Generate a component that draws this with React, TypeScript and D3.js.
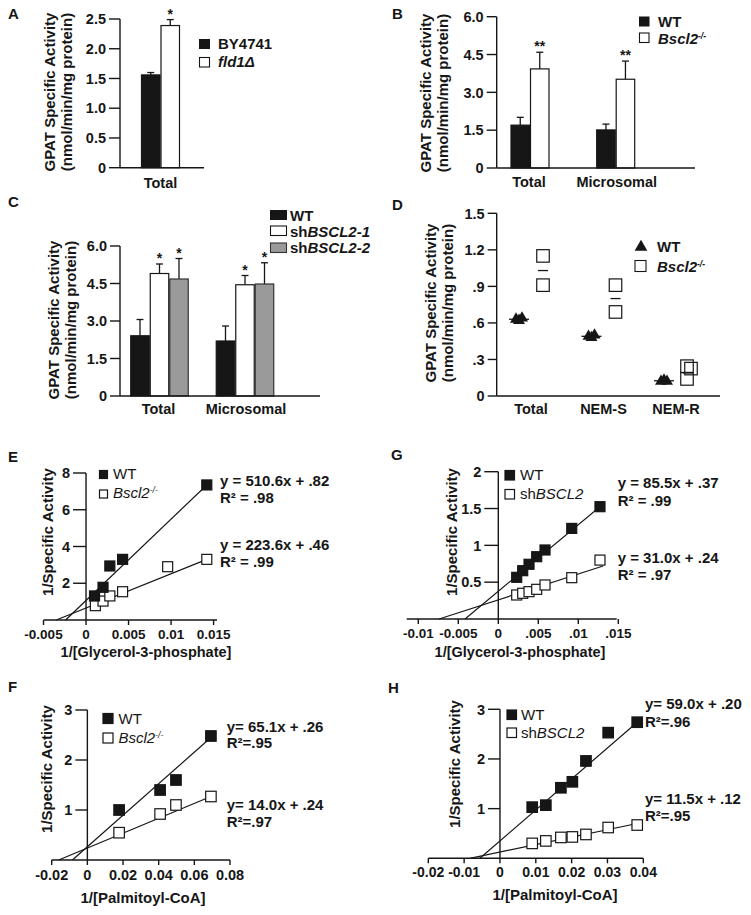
import React from "react";
import * as d3 from "d3";

const FONT = "'Liberation Sans', Arial, Helvetica, sans-serif";
const INK = "#161616";
const GRAY = "#9a9a9a";

// ---------- Panel A ----------
const aCategories = ["Total"];
const aBY4741 = [1.56];
const aBY4741Err = [0.04];
const aFld1 = [2.39];
const aFld1Err = [0.1];
const aFld1Sig = ["*"];
const aYTicks = [0, 0.5, 1.0, 1.5, 2.0, 2.5];
const aYTickLabels = ["0", "0.5", "1.0", "1.5", "2.0", "2.5"];

// ---------- Panel B ----------
const bCategories = ["Total", "Microsomal"];
const bWT = [1.7, 1.51];
const bWTErr = [0.31, 0.23];
const bKO = [3.93, 3.52];
const bKOErr = [0.66, 0.72];
const bKOSig = ["**", "**"];
const bYTicks = [0, 1.5, 3, 4.5, 6];
const bYTickLabels = ["0", "1.5", "3.0", "4.5", "6.0"];

// ---------- Panel C ----------
const cCategories = ["Total", "Microsomal"];
const cWT = [2.41, 2.2];
const cWTErr = [0.65, 0.6];
const cSh1 = [4.9, 4.45];
const cSh1Err = [0.38, 0.37];
const cSh1Sig = ["*", "*"];
const cSh2 = [4.68, 4.48];
const cSh2Err = [0.82, 0.85];
const cSh2Sig = ["*", "*"];
const cYTicks = [0, 1.5, 3, 4.5, 6];
const cYTickLabels = ["0", "1.5", "3.0", "4.5", "6.0"];

// ---------- Panel D ----------
const dCategories = ["Total", "NEM-S", "NEM-R"];
const dWT = [
  [0.63, 0.62, 0.64],
  [0.49, 0.48, 0.5],
  [0.12, 0.13, 0.12],
];
const dWTMean = [0.63, 0.49, 0.125];
const dKO = [
  [1.15, 0.91],
  [0.91, 0.69],
  [0.245, 0.225, 0.14],
];
const dKOMean = [1.03, 0.8, 0.19];
const dYTicks = [0, 0.3, 0.6, 0.9, 1.2, 1.5];
const dYTickLabels = ["0", ".3", ".6", ".9", "1.2", "1.5"];

// ---------- Panel E ----------
const eWTx = [0.001, 0.002, 0.0028, 0.0043, 0.0142];
const eWTy = [1.31, 1.78, 2.94, 3.3, 7.35];
const eKOx = [0.0011, 0.002, 0.0028, 0.0043, 0.0096, 0.0142];
const eKOy = [0.78, 1.03, 1.31, 1.54, 2.9, 3.3];
const eFitWTx = [-0.0024, 0.0142];
const eFitWTy = [0, 7.35];
const eFitKOx = [-0.0035, 0.0142];
const eFitKOy = [0, 3.3];
const eXTicks = [-0.005, 0, 0.005, 0.01, 0.015];
const eXTickLabels = ["-0.005", "0", "0.005", "0.01", "0.015"];
const eYTicks = [2, 4, 6, 8];
const eYTickLabels = ["2", "4", "6", "8"];
const eEquations = ["y = 510.6x + .82", "R² = .98", "y = 223.6x + .46", "R² = .99"];

// ---------- Panel G ----------
const gX = [0.0023, 0.00305, 0.00384, 0.0048, 0.00584, 0.00918, 0.01271];
const gWTy = [0.566, 0.656, 0.743, 0.846, 0.937, 1.23, 1.525];
const gKOy = [0.326, 0.349, 0.371, 0.403, 0.462, 0.561, 0.8];
const gFitWTx = [-0.00416, 0.01271];
const gFitWTy = [0, 1.525];
const gFitKOx = [-0.00741, 0.0131];
const gFitKOy = [0, 0.72];
const gXTicks = [-0.01, -0.005, 0, 0.005, 0.01, 0.015];
const gXTickLabels = ["-0.01", "-0.005", "0", ".005", ".01", ".015"];
const gYTicks = [0.5, 1, 1.5, 2];
const gYTickLabels = ["0.5", "1", "1.5", "2"];
const gEquations = ["y = 85.5x + .37", "R² = .99", "y = 31.0x + .24", "R² = .97"];

// ---------- Panel F ----------
const fX = [0.0178, 0.0408, 0.0497, 0.0693];
const fWTy = [1.0, 1.4, 1.6, 2.48];
const fKOy = [0.546, 0.92, 1.1, 1.27];
const fFitWTx = [-0.0084, 0.0693];
const fFitWTy = [0, 2.45];
const fFitKOx = [-0.0161, 0.0693];
const fFitKOy = [0, 1.27];
const fXTicks = [-0.02, 0, 0.02, 0.04, 0.06, 0.08];
const fXTickLabels = ["-0.02", "0", "0.02", "0.04", "0.06", "0.08"];
const fYTicks = [1, 2, 3];
const fYTickLabels = ["1", "2", "3"];
const fEquations = ["y= 65.1x + .26", "R²=.95", "y= 14.0x + .24", "R²=.97"];

// ---------- Panel H ----------
const hX = [0.009, 0.0128, 0.017, 0.0202, 0.024, 0.0302, 0.0383];
const hWTy = [1.03, 1.07, 1.42, 1.54, 1.96, 2.53, 2.74];
const hKOy = [0.3, 0.35, 0.42, 0.43, 0.48, 0.62, 0.67];
const hFitWTx = [-0.0056, 0.0383];
const hFitWTy = [0, 2.74];
const hFitKOx = [-0.0084, 0.0383];
const hFitKOy = [0, 0.7];
const hXTicks = [-0.02, -0.01, 0, 0.01, 0.02, 0.03, 0.04];
const hXTickLabels = ["-0.02", "-0.01", "0", "0.01", "0.02", "0.03", "0.04"];
const hYTicks = [1, 2, 3];
const hYTickLabels = ["1", "2", "3"];
const hEquations = ["y= 59.0x + .20", "R²=.96", "y= 11.5x + .12", "R²=.95"];

type Lin = d3.ScaleLinear<number, number>;

function YAxis({ scale, x, ticks, labels, tickLen, fontSize = 14.5 }: any) {
  const [d0, d1] = scale.domain();
  return (
    <g>
      <line x1={x} x2={x} y1={scale(d0)} y2={scale(d1)} stroke={INK} strokeWidth={1.4} />
      {ticks.map((t: number, i: number) => (
        <g key={i}>
          <line x1={x - tickLen} x2={x} y1={scale(t)} y2={scale(t)} stroke={INK} strokeWidth={1.4} />
          <text x={x - tickLen - 3} y={scale(t)} dy="0.36em" textAnchor="end" fontWeight="bold" fontSize={fontSize} fill={INK}>
            {labels[i]}
          </text>
        </g>
      ))}
    </g>
  );
}

function YTitle({ x, y, lines }: { x: number; y: number; lines: string[] }) {
  return (
    <g>
      {lines.map((l, i) => (
        <text key={i} transform={`translate(${x + i * 17},${y}) rotate(-90)`} dy="0.36em" textAnchor="middle" fontWeight="bold" fontSize={15} fill={INK}>
          {l}
        </text>
      ))}
    </g>
  );
}

function PanelLetter({ x, y, t }: { x: number; y: number; t: string }) {
  return (
    <text x={x} y={y} fontWeight="bold" fontSize={15} fill={INK}>
      {t}
    </text>
  );
}

type BarSeries = { values: number[]; errs: number[]; sig?: string[]; fill: string; stroke: string };

function Bars({ cats, series, y, centerRange, barW }: { cats: string[]; series: BarSeries[]; y: Lin; centerRange: [number, number]; barW: number }) {
  const xc = d3.scalePoint<string>().domain(cats).range(centerRange);
  const n = series.length;
  const inner = d3.scaleBand<number>().domain(d3.range(n)).range([(-barW * n) / 2, (barW * n) / 2]);
  return (
    <g>
      {series.map((s, si) =>
        cats.map((c, ci) => {
          const x0 = (xc(c) as number) + (inner(si) as number);
          const w = inner.bandwidth();
          const v = s.values[ci];
          const top = y(v);
          const et = y(v + s.errs[ci]);
          const cx = x0 + w / 2;
          return (
            <g key={`${si}-${ci}`}>
              <line x1={cx} x2={cx} y1={top} y2={et} stroke={INK} strokeWidth={1.3} />
              <line x1={cx - 3.5} x2={cx + 3.5} y1={et} y2={et} stroke={INK} strokeWidth={1.3} />
              <rect x={x0 + 0.5} y={top} width={w - 1} height={y(0) - top} fill={s.fill} stroke={s.stroke} strokeWidth={1.2} />
              {s.sig && s.sig[ci] ? (
                <text x={cx} y={et - 1} textAnchor="middle" fontWeight="bold" fontSize={14} fill={INK}>
                  {s.sig[ci]}
                </text>
              ) : null}
            </g>
          );
        })
      )}
    </g>
  );
}

function CatLabels({ cats, centers, y }: { cats: string[]; centers: [number, number]; y: number }) {
  const xc = d3.scalePoint<string>().domain(cats).range(centers);
  return (
    <g>
      {cats.map((c) => (
        <text key={c} x={xc(c)} y={y} textAnchor="middle" fontWeight="bold" fontSize={14.5} fill={INK}>
          {c}
        </text>
      ))}
    </g>
  );
}

function KO() {
  return (
    <>
      <tspan fontStyle="italic">Bscl2</tspan>
      <tspan fontStyle="italic" fontSize={8.5} dy={-5}>
        -/-
      </tspan>
    </>
  );
}

function XAxisScatter({ scale, y, ticks, labels, labelY, fontSize = 14.5 }: any) {
  const [d0, d1] = scale.domain();
  return (
    <g>
      <line x1={scale(d0)} x2={scale(d1)} y1={y} y2={y} stroke={INK} strokeWidth={1.4} />
      {ticks.map((t: number, i: number) => (
        <g key={i}>
          <line x1={scale(t)} x2={scale(t)} y1={y} y2={y + 5} stroke={INK} strokeWidth={1.4} />
          <text x={scale(t)} y={labelY} textAnchor="middle" fontWeight="bold" fontSize={fontSize} fill={INK}>
            {labels[i]}
          </text>
        </g>
      ))}
    </g>
  );
}

function Scatter({ x, y, xs, ys, filled, size = 10.5 }: { x: Lin; y: Lin; xs: number[]; ys: number[]; filled: boolean; size?: number }) {
  return (
    <g>
      {xs.map((v, i) => (
        <rect
          key={i}
          x={x(v) - size / 2}
          y={y(ys[i]) - size / 2}
          width={size}
          height={size}
          fill={filled ? INK : "#fff"}
          stroke={INK}
          strokeWidth={1.2}
        />
      ))}
    </g>
  );
}

function Fit({ x, y, xs, ys }: { x: Lin; y: Lin; xs: number[]; ys: number[] }) {
  const line = d3
    .line<number>()
    .x((d) => x(d))
    .y((_, i) => y(ys[i]));
  return <path d={line(xs) || ""} fill="none" stroke={INK} strokeWidth={1.2} />;
}

function Equations({ x, ys, texts }: { x: number; ys: number[]; texts: string[] }) {
  return (
    <g>
      {texts.map((t, i) => (
        <text key={i} x={x} y={ys[i]} fontWeight="bold" fontSize={15} fill={INK}>
          {t}
        </text>
      ))}
    </g>
  );
}

function LegendSquares({ x, ys, size, textX, labels }: { x: number; ys: number[]; size: number; textX: number; labels: React.ReactNode[] }) {
  return (
    <g>
      {ys.map((yy, i) => (
        <g key={i}>
          <rect x={x} y={yy} width={size} height={size} fill={i === 0 ? INK : "#fff"} stroke={INK} strokeWidth={1.2} />
          <text x={textX} y={yy + size} fontSize={15} fill={INK}>
            {labels[i]}
          </text>
        </g>
      ))}
    </g>
  );
}

function PanelA() {
  const y = d3.scaleLinear().domain([0, 2.5]).range([167.7, 19]);
  const series: BarSeries[] = [
    { values: aBY4741, errs: aBY4741Err, fill: INK, stroke: INK },
    { values: aFld1, errs: aFld1Err, sig: aFld1Sig, fill: "#fff", stroke: INK },
  ];
  return (
    <g>
      <PanelLetter x={8} y={18.5} t="A" />
      <YTitle x={50} y={92} lines={["GPAT Specific Activity", "(nmol/min/mg protein)"]} />
      <Bars cats={aCategories} series={series} y={y} centerRange={[160.5, 160.5]} barW={19.5} />
      <line x1={120} x2={204} y1={y(0)} y2={y(0)} stroke={INK} strokeWidth={1.4} />
      <YAxis scale={y} x={120} ticks={aYTicks} labels={aYTickLabels} tickLen={11} />
      <CatLabels cats={aCategories} centers={[160.5, 160.5]} y={188.3} />
      <rect x={199} y={39} width={11} height={10} fill={INK} />
      <rect x={199.5} y={57.5} width={10} height={9.5} fill="#fff" stroke={INK} strokeWidth={1.1} />
      <text x={218} y={49} fontWeight="bold" fontSize={15} fill={INK}>BY4741</text>
      <text x={218} y={67} fontWeight="bold" fontSize={15} fill={INK} fontStyle="italic">fld1Δ</text>
    </g>
  );
}

function PanelB() {
  const y = d3.scaleLinear().domain([0, 6]).range([168, 16.7]);
  const series: BarSeries[] = [
    { values: bWT, errs: bWTErr, fill: INK, stroke: INK },
    { values: bKO, errs: bKOErr, sig: bKOSig, fill: "#fff", stroke: INK },
  ];
  return (
    <g>
      <PanelLetter x={392} y={18.5} t="B" />
      <YTitle x={426} y={93} lines={["GPAT Specific Activity", "(nmol/min/mg protein)"]} />
      <Bars cats={bCategories} series={series} y={y} centerRange={[530, 615.7]} barW={19.5} />
      <line x1={496.7} x2={695} y1={y(0)} y2={y(0)} stroke={INK} strokeWidth={1.4} />
      <YAxis scale={y} x={496.7} ticks={bYTicks} labels={bYTickLabels} tickLen={10} />
      <CatLabels cats={bCategories} centers={[529, 616.7]} y={186.7} />
      <rect x={639} y={16.5} width={10.5} height={10} fill={INK} />
      <rect x={639.5} y={33} width={9.5} height={9.5} fill="#fff" stroke={INK} strokeWidth={1.1} />
      <text x={658} y={27} fontWeight="bold" fontSize={15} fill={INK}>WT</text>
      <text x={658} y={43.5} fontWeight="bold" fontSize={15} fill={INK}><KO /></text>
    </g>
  );
}

function PanelC() {
  const y = d3.scaleLinear().domain([0, 6]).range([396, 246]);
  const series: BarSeries[] = [
    { values: cWT, errs: cWTErr, fill: INK, stroke: INK },
    { values: cSh1, errs: cSh1Err, sig: cSh1Sig, fill: "#fff", stroke: INK },
    { values: cSh2, errs: cSh2Err, sig: cSh2Sig, fill: GRAY, stroke: "#333" },
  ];
  return (
    <g>
      <PanelLetter x={8} y={206.5} t="C" />
      <YTitle x={54} y={320} lines={["GPAT Specific Activity", "(nmol/min/mg protein)"]} />
      <Bars cats={cCategories} series={series} y={y} centerRange={[159.5, 245]} barW={19.5} />
      <line x1={120} x2={320} y1={y(0)} y2={y(0)} stroke={INK} strokeWidth={1.4} />
      <YAxis scale={y} x={120} ticks={cYTicks} labels={cYTickLabels} tickLen={10} />
      <CatLabels cats={cCategories} centers={[158.5, 246]} y={414} />
      <rect x={270} y={210} width={17} height={10} fill={INK} />
      <rect x={270.5} y={226} width={16} height={9.5} fill="#fff" stroke={INK} strokeWidth={1.1} />
      <rect x={270.5} y={243} width={16} height={9.5} fill={GRAY} stroke="#333" strokeWidth={1.1} />
      <text x={290} y={220.5} fontWeight="bold" fontSize={15} fill={INK}>WT</text>
      <text x={290} y={236.5} fontWeight="bold" fontSize={15} fill={INK}>
        sh<tspan fontStyle="italic">BSCL2-1</tspan>
      </text>
      <text x={290} y={253} fontWeight="bold" fontSize={15} fill={INK}>
        sh<tspan fontStyle="italic">BSCL2-2</tspan>
      </text>
    </g>
  );
}

function PanelD() {
  const y = d3.scaleLinear().domain([0, 1.5]).range([396, 213.3]);
  const xc = d3.scalePoint<string>().domain(dCategories).range([531, 676]);
  const tri = d3.symbol().type(d3.symbolTriangle).size(62)() || "";
  const sqSize = 12.5;
  const wtJitter = [-3, 0, 3];
  const koJitter = [[0, 0], [0, 0], [-1, 3, -1]];
  return (
    <g>
      <PanelLetter x={392} y={210} t="D" />
      <YTitle x={431} y={303} lines={["GPAT Specific Activity", "(nmol/min/mg protein)"]} />
      {dCategories.map((c, ci) => {
        const cx = xc(c) as number;
        const wx = cx - 12;
        const kx = cx + 12;
        return (
          <g key={c}>
            {dWT[ci].map((v, i) => (
              <path key={i} d={tri} transform={`translate(${wx + wtJitter[i]},${y(v)})`} fill={INK} />
            ))}
            <line x1={wx - 10} x2={wx + 10} y1={y(dWTMean[ci])} y2={y(dWTMean[ci])} stroke={INK} strokeWidth={1.3} />
            {dKO[ci].map((v, i) => (
              <rect key={i} x={kx + koJitter[ci][i] - sqSize / 2} y={y(v) - sqSize / 2} width={sqSize} height={sqSize} fill="none" stroke={INK} strokeWidth={1.2} />
            ))}
            <line x1={kx - 5} x2={kx + 5} y1={y(dKOMean[ci])} y2={y(dKOMean[ci])} stroke={INK} strokeWidth={1.3} />
          </g>
        );
      })}
      <line x1={496.7} x2={720} y1={y(0)} y2={y(0)} stroke={INK} strokeWidth={1.4} />
      <YAxis scale={y} x={496.7} ticks={dYTicks} labels={dYTickLabels} tickLen={9} />
      {dCategories.map((c) => (
        <text key={c} x={xc(c)} y={414} textAnchor="middle" fontWeight="bold" fontSize={14.5} fill={INK}>
          {c}
        </text>
      ))}
      <path d={d3.symbol().type(d3.symbolTriangle).size(70)() || ""} transform="translate(641,247)" fill={INK} />
      <rect x={635} y={260.5} width={11} height={11} fill="#fff" stroke={INK} strokeWidth={1.1} />
      <text x={657} y={252} fontWeight="bold" fontSize={15} fill={INK}>WT</text>
      <text x={657} y={271.5} fontWeight="bold" fontSize={15} fill={INK}><KO /></text>
    </g>
  );
}

function PanelE() {
  const x = d3.scaleLinear().domain([-0.005, 0.0154]).range([43.5, 217]);
  const y = d3.scaleLinear().domain([0, 8]).range([620, 473]);
  return (
    <g>
      <PanelLetter x={8} y={461.5} t="E" />
      <YTitle x={48} y={532} lines={["1/Specific Activity"]} />
      <Fit x={x} y={y} xs={eFitWTx} ys={eFitWTy} />
      <Fit x={x} y={y} xs={eFitKOx} ys={eFitKOy} />
      <Scatter x={x} y={y} xs={eKOx} ys={eKOy} filled={false} size={10} />
      <Scatter x={x} y={y} xs={eWTx} ys={eWTy} filled={true} size={10} />
      <YAxis scale={y} x={x(0)} ticks={eYTicks} labels={eYTickLabels} tickLen={13} />
      <XAxisScatter scale={x} y={y(0)} ticks={eXTicks} labels={eXTickLabels} labelY={638.5} fontSize={13.5} />
      <text x={146} y={657} textAnchor="middle" fontWeight="bold" fontSize={14.5} fill={INK}>1/[Glycerol-3-phosphate]</text>
      <LegendSquares x={99.5} ys={[470.5, 490]} size={8} textX={113} labels={["WT", <KO key="k" />]} />
      <Equations x={220} ys={[486, 503, 550, 567]} texts={eEquations} />
    </g>
  );
}

function PanelG() {
  const x = d3.scaleLinear().domain([-0.01145, 0.0148]).range([406.7, 616.7]);
  const y = d3.scaleLinear().domain([0, 2]).range([619, 471.7]);
  return (
    <g>
      <PanelLetter x={391} y={460} t="G" />
      <YTitle x={452} y={532} lines={["1/Specific Activity"]} />
      <Fit x={x} y={y} xs={gFitWTx} ys={gFitWTy} />
      <Fit x={x} y={y} xs={gFitKOx} ys={gFitKOy} />
      <Scatter x={x} y={y} xs={gX} ys={gKOy} filled={false} size={10} />
      <Scatter x={x} y={y} xs={gX} ys={gWTy} filled={true} size={10} />
      <YAxis scale={y} x={x(0)} ticks={gYTicks} labels={gYTickLabels} tickLen={14} />
      <XAxisScatter scale={x} y={y(0)} ticks={gXTicks} labels={gXTickLabels} labelY={638} fontSize={13.5} />
      <text x={520} y={657} textAnchor="middle" fontWeight="bold" fontSize={14.5} fill={INK}>1/[Glycerol-3-phosphate]</text>
      <LegendSquares
        x={505}
        ys={[470.5, 489.5]}
        size={9.5}
        textX={520}
        labels={["WT", <React.Fragment key="s">sh<tspan fontStyle="italic">BSCL2</tspan></React.Fragment>]}
      />
      <Equations x={617.7} ys={[488.3, 505.7, 563.3, 580]} texts={gEquations} />
    </g>
  );
}

function PanelF() {
  const x = d3.scaleLinear().domain([-0.02, 0.08]).range([51.7, 230]);
  const y = d3.scaleLinear().domain([0, 3]).range([860, 710]);
  return (
    <g>
      <PanelLetter x={8} y={691.5} t="F" />
      <YTitle x={47} y={769} lines={["1/Specific Activity"]} />
      <Fit x={x} y={y} xs={fFitWTx} ys={fFitWTy} />
      <Fit x={x} y={y} xs={fFitKOx} ys={fFitKOy} />
      <Scatter x={x} y={y} xs={fX} ys={fKOy} filled={false} />
      <Scatter x={x} y={y} xs={fX} ys={fWTy} filled={true} />
      <YAxis scale={y} x={x(0)} ticks={fYTicks} labels={fYTickLabels} tickLen={12} />
      <XAxisScatter scale={x} y={y(0)} ticks={fXTicks} labels={fXTickLabels} labelY={880} />
      <text x={143} y={903} textAnchor="middle" fontWeight="bold" fontSize={15} fill={INK}>1/[Palmitoyl-CoA]</text>
      <LegendSquares x={103} ys={[713.5, 733]} size={10} textX={118.5} labels={["WT", <KO key="k" />]} />
      <Equations x={226.7} ys={[731.7, 748.3, 810, 827.3]} texts={fEquations} />
    </g>
  );
}

function PanelH() {
  const x = d3.scaleLinear().domain([-0.02, 0.04]).range([428.3, 643.3]);
  const y = d3.scaleLinear().domain([0, 3]).range([858.3, 709.3]);
  return (
    <g>
      <PanelLetter x={388} y={692.5} t="H" />
      <YTitle x={455} y={764} lines={["1/Specific Activity"]} />
      <Fit x={x} y={y} xs={hFitWTx} ys={hFitWTy} />
      <Fit x={x} y={y} xs={hFitKOx} ys={hFitKOy} />
      <Scatter x={x} y={y} xs={hX} ys={hKOy} filled={false} />
      <Scatter x={x} y={y} xs={hX} ys={hWTy} filled={true} />
      <YAxis scale={y} x={x(0)} ticks={hYTicks} labels={hYTickLabels} tickLen={12} />
      <XAxisScatter scale={x} y={y(0)} ticks={hXTicks} labels={hXTickLabels} labelY={877} fontSize={14} />
      <text x={555} y={900} textAnchor="middle" fontWeight="bold" fontSize={15} fill={INK}>1/[Palmitoyl-CoA]</text>
      <LegendSquares
        x={507}
        ys={[710, 728]}
        size={9.5}
        textX={521}
        labels={["WT", <React.Fragment key="s">sh<tspan fontStyle="italic">BSCL2</tspan></React.Fragment>]}
      />
      <Equations x={645} ys={[709.3, 726.7, 804, 820.7]} texts={hEquations} />
    </g>
  );
}

export default function App() {
  return (
    <svg
      width={751}
      height={915}
      viewBox="0 0 751 915"
      style={{ position: "absolute", left: 0, top: 0, display: "block" }}
      fontFamily={FONT}
    >
      <rect width={751} height={915} fill="#fff" />
      <PanelA />
      <PanelB />
      <PanelC />
      <PanelD />
      <PanelE />
      <PanelG />
      <PanelF />
      <PanelH />
    </svg>
  );
}
